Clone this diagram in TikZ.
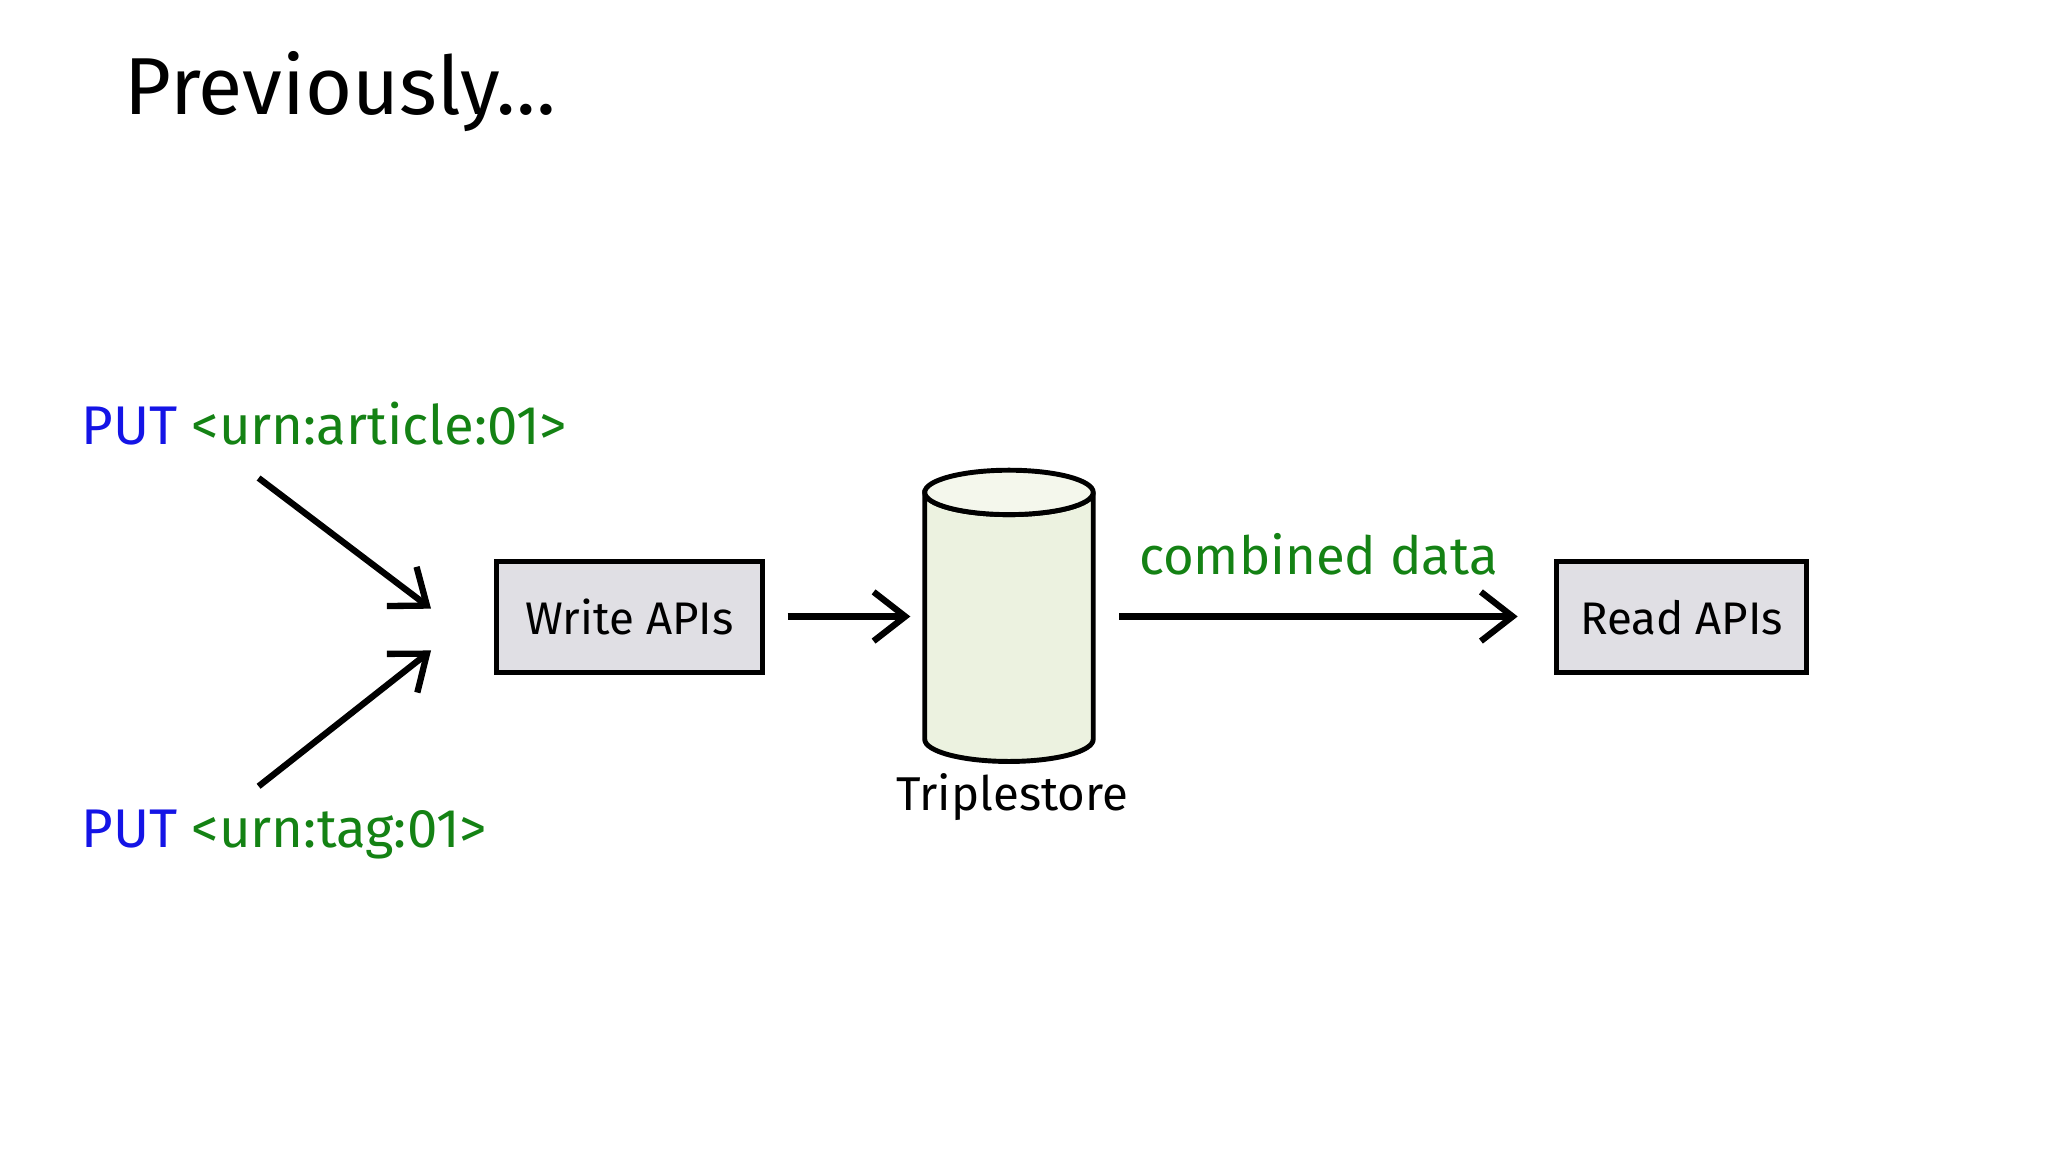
\documentclass[tikz,border=0pt]{standalone}
\usepackage{fontspec}
\setmainfont{Fira Sans}
\usetikzlibrary{arrows.meta}
\definecolor{putblue}{RGB}{20,20,230}
\definecolor{urngreen}{RGB}{20,130,20}
\definecolor{boxfill}{RGB}{224,223,228}
\definecolor{cylfill}{RGB}{236,242,224}
\begin{document}
\begin{tikzpicture}[x=0.01306cm,y=-0.01306cm,
  box/.style={draw,line width=1.4pt,fill=boxfill,inner sep=0pt,font=\fontsize{13}{15}\selectfont},
  arr/.style={line width=1.8pt,-{Straight Barb[length=9pt,width=14pt,line width=1.8pt]}},
  lbl/.style={font=\fontsize{15.5}{18}\selectfont,inner sep=0pt}]
\useasboundingbox[fill=white] (0,0) rectangle (1568,882);
\node[anchor=base west,font=\fontsize{23}{27}\selectfont,inner sep=0pt] (title) at (95,88) {Previously\ldots};
\node[lbl,anchor=west] (p1) at (62,324) {\textcolor{putblue}{PUT} \textcolor{urngreen}{<urn:article:01>}};
\node[lbl,anchor=west] (p2) at (62,639) {\textcolor{putblue}{PUT} \textcolor{urngreen}{<urn:tag:01>}};
\coordinate (a1s) at (198,366); \coordinate (a1e) at (330,466);
\coordinate (a2s) at (198,602); \coordinate (a2e) at (330,498);
\draw[arr] (a1s) -- (a1e);
\draw[arr] (a2s) -- (a2e);
\node[box,minimum width=204*0.01306cm,minimum height=85*0.01306cm] (w) at (482,472.5) {Write APIs};
\node[box,minimum width=191*0.01306cm,minimum height=85*0.01306cm] (r) at (1287.5,472.5) {Read APIs};
% cylinder
\draw[line width=1.4pt,fill=cylfill] (708,377) -- (708,566) arc[start angle=180,end angle=360,x radius=64.5,y radius=-17] -- (837,377) arc[start angle=0,end angle=180,x radius=64.5,y radius=17] -- cycle;
\draw[line width=1.4pt,fill=cylfill!60!white] (772.5,377) ellipse[x radius=64.5,y radius=-17];
\node[inner sep=0pt,minimum width=130*0.01306cm,minimum height=223*0.01306cm] (c) at (772.5,471.5) {};
\node[font=\fontsize{13.5}{16}\selectfont,inner sep=0pt] (t) at (775,610) {Triplestore};
\coordinate (b1) at (603,472); \coordinate (b2) at (697,472);
\draw[arr] (b1) -- (b2);
\coordinate (c1) at (857,472); \coordinate (c2) at (1162,472);
\draw[arr] (c1) -- node[above=11pt,font=\fontsize{15}{18}\selectfont,text=urngreen,inner sep=0pt] {combined data} (c2);
\end{tikzpicture}
\end{document}
